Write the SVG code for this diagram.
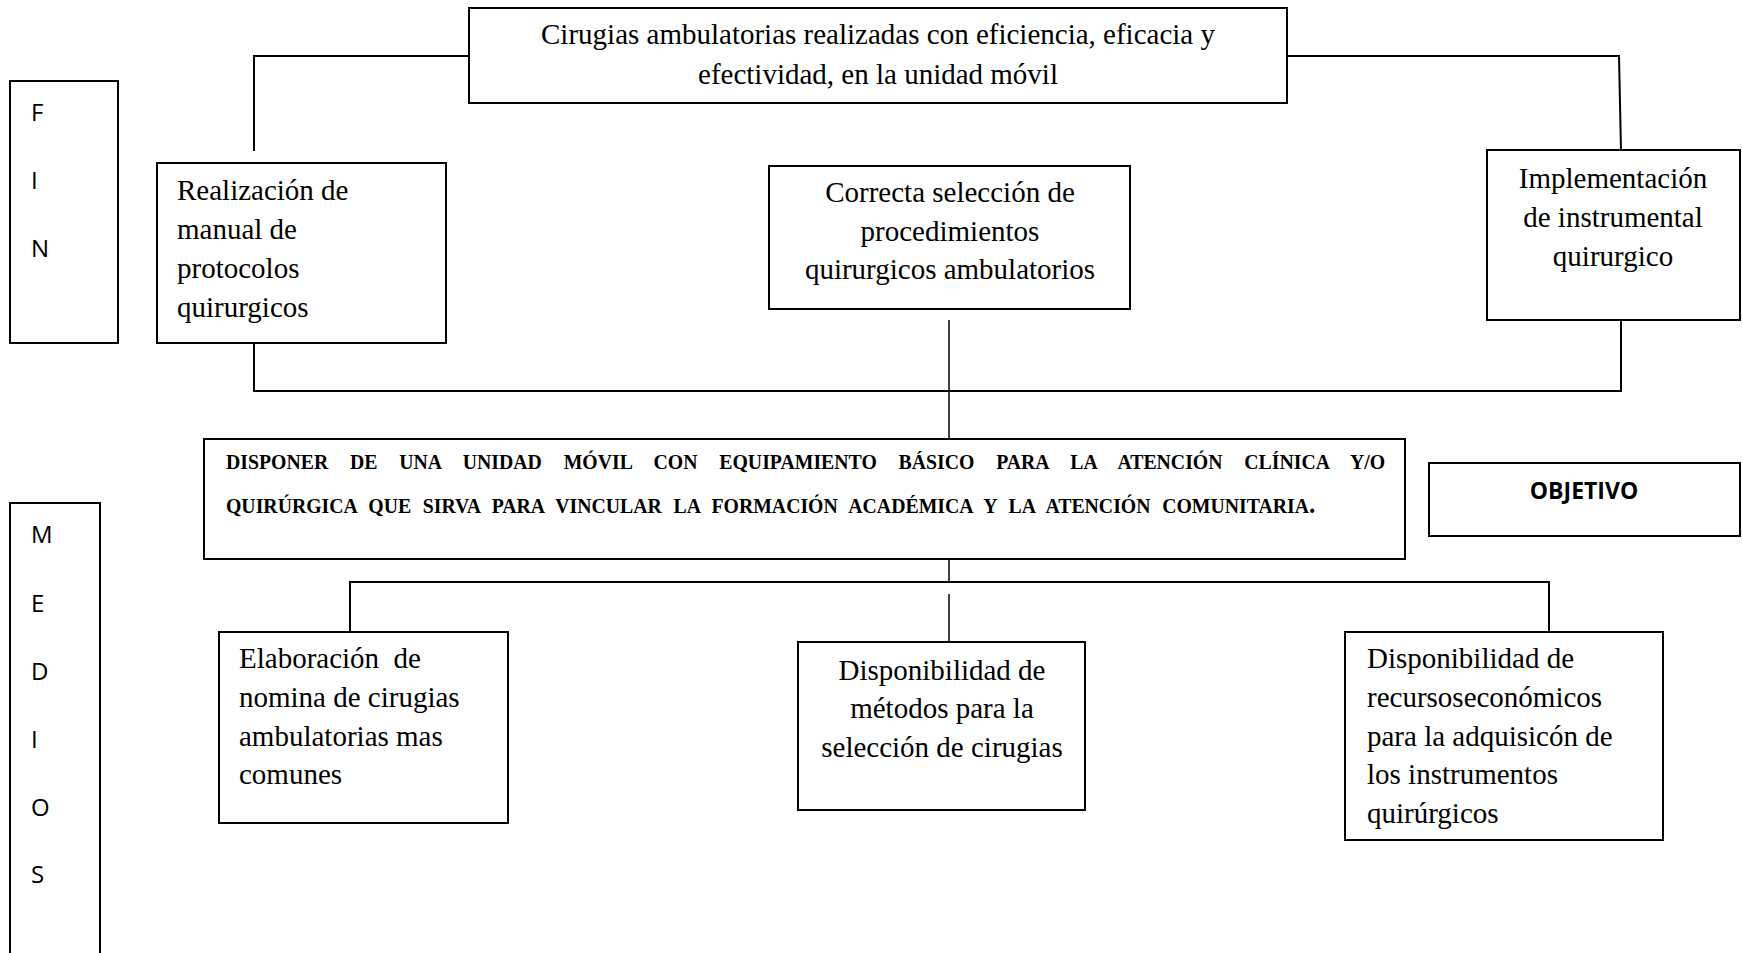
<svg xmlns="http://www.w3.org/2000/svg" width="1742" height="953" viewBox="0 0 1742 953">
<style>
.box{fill:#fff;stroke:#000;stroke-width:2}
.ln{fill:none;stroke:#000;stroke-width:2}
.thin{fill:none;stroke:#000;stroke-width:1.5}
.t{font-family:"Liberation Serif","Times New Roman",serif;font-size:29px;fill:#000}
.c{text-anchor:middle}
.s{font-family:"Open Sans","Liberation Sans",sans-serif;font-size:24px;fill:#000}
.ob{font-family:"Liberation Serif","Times New Roman",serif;font-size:22px;font-weight:bold;fill:#000}
.obj{font-family:"Open Sans","Liberation Sans",sans-serif;font-size:23px;font-weight:bold;fill:#000;text-anchor:middle}
</style>
<rect width="1742" height="953" fill="#fff"/>
<g id="connectors">
<polyline class="ln" points="254,151 254,56 469,56"/>
<polyline class="ln" points="1287,56 1619,56 1621,151"/>
<polyline class="ln" points="254,343 254,391 1621,391 1621,320"/>
<line class="thin" x1="949" y1="320" x2="949" y2="439"/>
<line class="thin" x1="949" y1="559" x2="949" y2="582"/>
<polyline class="ln" points="350,632 350,582 1549,582 1549,632"/>
<line class="thin" x1="949" y1="594" x2="949" y2="642"/>
</g>
<g id="fin">
<rect class="box" x="10" y="81" width="108" height="262"/>
<text class="s" x="31" y="121">F</text>
<text class="s" x="31" y="189">I</text>
<text class="s" x="31" y="257">N</text>
</g>
<g id="medios">
<rect class="box" x="10" y="503" width="90" height="460"/>
<text class="s" x="31" y="543">M</text>
<text class="s" x="31" y="612">E</text>
<text class="s" x="31" y="680">D</text>
<text class="s" x="31" y="748">I</text>
<text class="s" x="31" y="816">O</text>
<text class="s" x="31" y="883">S</text>
</g>
<g id="fin-top">
<rect class="box" x="469" y="8" width="818" height="95"/>
<text class="t c" x="878" y="44">Cirugias ambulatorias realizadas con eficiencia, eficacia y</text>
<text class="t c" x="878" y="84">efectividad, en la unidad móvil</text>
</g>
<g id="realizacion">
<rect class="box" x="157" y="163" width="289" height="180"/>
<text class="t" x="177" y="200">Realización de</text>
<text class="t" x="177" y="239">manual de</text>
<text class="t" x="177" y="278">protocolos</text>
<text class="t" x="177" y="317">quirurgicos</text>
</g>
<g id="correcta">
<rect class="box" x="769" y="166" width="361" height="143"/>
<text class="t c" x="950" y="202">Correcta selección de</text>
<text class="t c" x="950" y="241">procedimientos</text>
<text class="t c" x="950" y="279">quirurgicos ambulatorios</text>
</g>
<g id="implementacion">
<rect class="box" x="1487" y="150" width="253" height="170"/>
<text class="t c" x="1613" y="188">Implementación</text>
<text class="t c" x="1613" y="227">de instrumental</text>
<text class="t c" x="1613" y="266">quirurgico</text>
</g>
<g id="objetivo-central">
<rect class="box" x="204" y="439" width="1201" height="120"/>
<g transform="scale(0.9,1)">
<text class="ob" x="251.1" y="469" word-spacing="18.7">DISPONER DE UNA UNIDAD MÓVIL CON EQUIPAMIENTO BÁSICO PARA LA ATENCIÓN CLÍNICA Y/O</text>
<text class="ob" x="251.1" y="513" word-spacing="7.4">QUIRÚRGICA QUE SIRVA PARA VINCULAR LA FORMACIÓN ACADÉMICA Y LA ATENCIÓN COMUNITARIA<tspan font-size="28">.</tspan></text>
</g>
</g>
<g id="objetivo-label">
<rect class="box" x="1429" y="463" width="311" height="73"/>
<text class="obj" x="1584" y="499">OBJETIVO</text>
</g>
<g id="elaboracion">
<rect class="box" x="219" y="632" width="289" height="191"/>
<text class="t" x="239" y="668" xml:space="preserve">Elaboración  de</text>
<text class="t" x="239" y="707">nomina de cirugias</text>
<text class="t" x="239" y="746">ambulatorias mas</text>
<text class="t" x="239" y="784">comunes</text>
</g>
<g id="metodos">
<rect class="box" x="798" y="642" width="287" height="168"/>
<text class="t c" x="942" y="680">Disponibilidad de</text>
<text class="t c" x="942" y="718">métodos para la</text>
<text class="t c" x="942" y="757">selección de cirugias</text>
</g>
<g id="recursos">
<rect class="box" x="1345" y="632" width="318" height="208"/>
<text class="t" x="1367" y="668">Disponibilidad de</text>
<text class="t" x="1367" y="707">recursoseconómicos</text>
<text class="t" x="1367" y="746">para la adquisicón de</text>
<text class="t" x="1367" y="784">los instrumentos</text>
<text class="t" x="1367" y="823">quirúrgicos</text>
</g>
</svg>
